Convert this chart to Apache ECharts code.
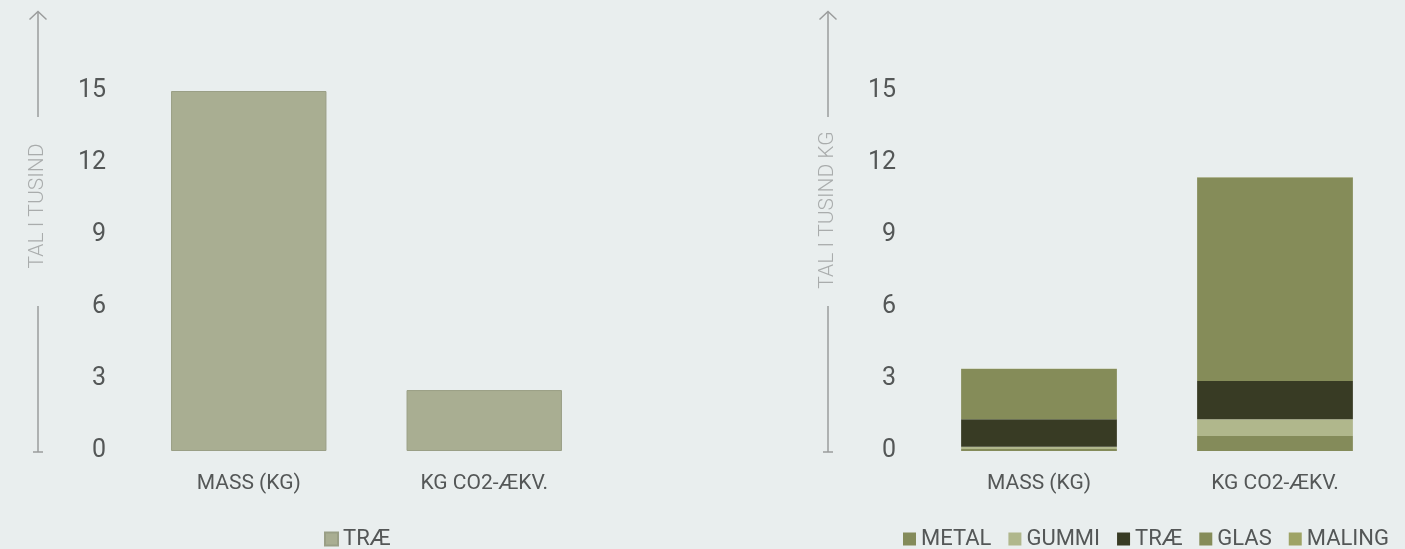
<!DOCTYPE html>
<html>
<head>
<meta charset="utf-8">
<script src="https://cdn.jsdelivr.net/npm/echarts@6/dist/echarts.min.js"></script>
<style>
html,body{margin:0;padding:0;background:#e9eeee;}
#c{width:1405px;height:549px;}
</style>
</head>
<body>
<div id="c"></div>
<script>
// ---- data ----
const categories = ['MASS (KG)', 'KG CO2-ÆKV.'];
const yTicks = [0, 3, 6, 9, 12, 15];
const leftTitle = 'TAL I TUSIND';
const rightTitle = 'TAL I TUSIND KG';
const leftTrae = [15.0, 2.54];
const metal  = [0.08, 0.62];
const gummi  = [0.10, 0.70];
const trae   = [1.14, 1.60];
const glas   = [2.10, 8.48];
const maling = [0.01, 0.01];

const labelColor = '#545757';
const lineColor = '#9a9c9c';
const font = 'Roboto, "Noto Sans", sans-serif';

const chart = echarts.init(document.getElementById('c'), null, {renderer: 'canvas'});

function yAxisFor(gi) {
  return {
    gridIndex: gi, type: 'value', min: yTicks[0], max: yTicks[yTicks.length - 1], interval: 3,
    axisLine: {show: false}, axisTick: {show: false}, splitLine: {show: false},
    axisLabel: {color: labelColor, fontSize: 25, fontFamily: font, margin: 25, padding: [6, 0, 0, 0]}
  };
}
function xAxisFor(gi) {
  return {
    gridIndex: gi, type: 'category', data: categories,
    axisLine: {show: false}, axisTick: {show: false},
    axisLabel: {color: labelColor, fontSize: 21, fontFamily: font, margin: 22}
  };
}
function axisDeco(x, title, cy) {
  const st = {stroke: lineColor, lineWidth: 1.5};
  return [
    {type: 'line', shape: {x1: x, y1: 12, x2: x, y2: 117}, style: st, silent: true},
    {type: 'polyline', shape: {points: [[x - 8.5, 19.5], [x, 11.5], [x + 8.5, 19.5]]}, style: Object.assign({fill: null}, st), silent: true},
    {type: 'line', shape: {x1: x, y1: 306, x2: x, y2: 452}, style: st, silent: true},
    {type: 'line', shape: {x1: x - 5, y1: 452, x2: x + 5, y2: 452}, style: st, silent: true},
    {type: 'text', x: x, y: cy, rotation: Math.PI / 2,
     style: {text: title, fill: '#a9acac', font: '300 21px ' + font, align: 'center', verticalAlign: 'middle'}, silent: true}
  ];
}

const stackColors = {
  'METAL': '#848b5a', 'GUMMI ': '#b0b78c', 'TRÆ ': '#383b24', 'GLAS': '#858c59', 'MALING': '#9ea365'
};
const stackSeries = [
  ['METAL', metal], ['GUMMI ', gummi], ['TRÆ ', trae], ['GLAS', glas], ['MALING', maling]
].map(([n, d]) => ({
  name: n, type: 'bar', stack: 'r', xAxisIndex: 1, yAxisIndex: 1, data: d,
  barWidth: '66%', itemStyle: {color: stackColors[n]}
}));

chart.setOption({
  backgroundColor: '#e9eeee',
  animation: false,
  grid: [
    {left: 131, top: 91, width: 471, height: 360},
    {left: 921, top: 91, width: 472, height: 360}
  ],
  xAxis: [xAxisFor(0), xAxisFor(1)],
  yAxis: [yAxisFor(0), yAxisFor(1)],
  legend: [
    {data: ['TRÆ'], left: 319, top: 523, itemWidth: 13, itemHeight: 13, itemGap: 17,
     icon: 'rect', textStyle: {color: labelColor, fontSize: 22, fontFamily: font}},
    {data: ['METAL', 'GUMMI ', 'TRÆ ', 'GLAS', 'MALING'], left: 898, top: 523,
     itemWidth: 13, itemHeight: 13, itemGap: 17, icon: 'rect',
     formatter: n => n.trim(),
     textStyle: {color: labelColor, fontSize: 22, fontFamily: font}}
  ],
  graphic: axisDeco(38, leftTitle, 206).concat(axisDeco(828, rightTitle, 210)),
  series: [
    {name: 'TRÆ', type: 'bar', xAxisIndex: 0, yAxisIndex: 0, data: leftTrae,
     barWidth: '66%', itemStyle: {color: '#a9ae92', borderColor: '#9a9f86', borderWidth: 1}}
  ].concat(stackSeries)
});
</script>
</body>
</html>
